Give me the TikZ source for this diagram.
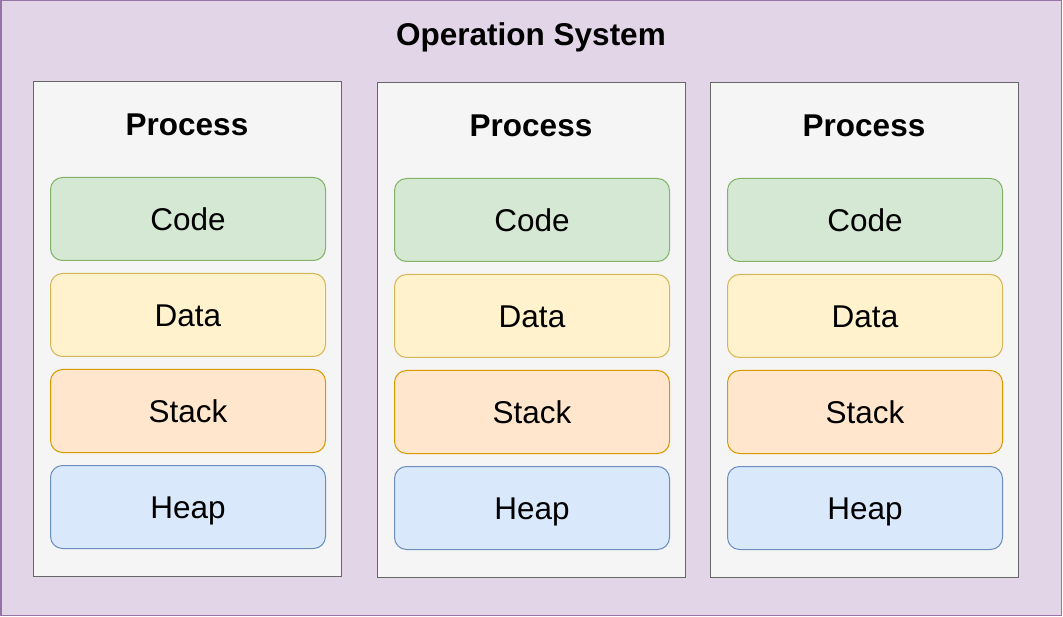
\documentclass[tikz,border=0pt]{standalone}
\usepackage{fontspec}
\setmainfont{Liberation Sans}
\definecolor{osfill}{HTML}{E1D5E7}
\definecolor{osline}{HTML}{9673A6}
\definecolor{procfill}{HTML}{F5F5F5}
\definecolor{procline}{HTML}{666666}
\definecolor{codefill}{HTML}{D5E8D4}
\definecolor{codeline}{HTML}{82B366}
\definecolor{datafill}{HTML}{FFF2CC}
\definecolor{dataline}{HTML}{D6B656}
\definecolor{stackfill}{HTML}{FFE6CC}
\definecolor{stackline}{HTML}{D79B00}
\definecolor{heapfill}{HTML}{DAE8FC}
\definecolor{heapline}{HTML}{6C8EBF}
\tikzset{
  procbox/.style={draw=procline, fill=procfill, line width=1.2pt, anchor=north west,
    minimum width=308pt, minimum height=495pt, inner sep=0pt},
  seg/.style={rounded corners=12pt, line width=1pt, anchor=north west,
    minimum width=275pt, minimum height=83pt, inner sep=0pt,
    text height=22.5pt, text depth=0pt,
    font=\fontsize{31.5}{36}\selectfont},
  codebox/.style={seg, draw=codeline, fill=codefill},
  databox/.style={seg, draw=dataline, fill=datafill},
  stackbox/.style={seg, draw=stackline, fill=stackfill},
  heapbox/.style={seg, draw=heapline, fill=heapfill},
  titletext/.style={font=\fontsize{31.5}{36}\selectfont\bfseries, inner sep=0pt,
    text height=22.5pt, text depth=0pt}
}
\begin{document}
\begin{tikzpicture}[x=1pt,y=-1pt]
\useasboundingbox (0,0) rectangle (1063,617);
% operating system frame
\draw[draw=osline, fill=osfill, line width=1.5pt] (0.75,0.75) rectangle (1061.5,615.5);
\node[titletext] (ostitle) at (531,34) {Operation System};
% three processes with their memory segments
\foreach \i/\x/\y in {1/33/81, 2/377/82, 3/710/82}{
  \node[procbox] (proc\i) at (\x,\y) {};
  \node[titletext] (ptitle\i) at (\x+154,\y+43) {Process};
  \node[codebox]  (code\i)  at (\x+17,\y+96)  {Code};
  \node[databox]  (data\i)  at (\x+17,\y+192) {Data};
  \node[stackbox] (stack\i) at (\x+17,\y+288) {Stack};
  \node[heapbox]  (heap\i)  at (\x+17,\y+384) {Heap};
}
\end{tikzpicture}
\end{document}
